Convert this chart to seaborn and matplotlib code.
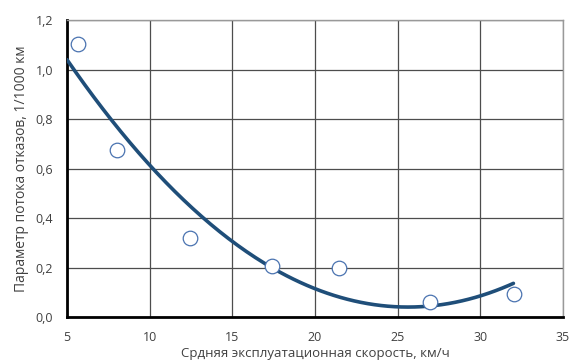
import numpy as np
import pandas as pd
import matplotlib
matplotlib.use("Agg")
import matplotlib.pyplot as plt
import seaborn as sns
from matplotlib.ticker import FuncFormatter

speed = [5.67, 8.02, 12.44, 17.4, 21.45, 26.96, 32.04]
failure_rate = [1.103, 0.675, 0.319, 0.206, 0.198, 0.06, 0.093]
x_ticks = [5, 10, 15, 20, 25, 30, 35]
y_ticks = [0.0, 0.2, 0.4, 0.6, 0.8, 1.0, 1.2]
trend_range = [5, 32]

sns.set_theme(style="white")
plt.rcParams['font.family'] = ['Open Sans', 'DejaVu Sans']

fig = plt.figure(figsize=(5.69, 3.63), dpi=100)
ax = fig.add_axes([0.1178, 0.1267, 0.8717, 0.8182])

coef = np.polyfit(speed, failure_rate, 2)
xt = np.linspace(trend_range[0], trend_range[1], 200)
trend = pd.DataFrame({"x": xt, "y": np.polyval(coef, xt)})
sns.lineplot(data=trend, x="x", y="y", ax=ax, color="#1f4e79", linewidth=2.6, zorder=3)

pts = pd.DataFrame({"x": speed, "y": failure_rate})
sns.scatterplot(data=pts, x="x", y="y", ax=ax, marker="o", s=110,
                facecolor="white", edgecolor="#4a73b0", linewidth=0.9, zorder=4)

ax.set_xlim(5, 35)
ax.set_ylim(0, 1.2)
ax.set_xticks(x_ticks)
ax.set_yticks(y_ticks)
ax.yaxis.set_major_formatter(FuncFormatter(lambda v, p: f"{v:.1f}".replace(".", ",")))
ax.grid(True, color="#4d4d4d", linewidth=0.9)
ax.set_axisbelow(True)
for s in ["top", "right"]:
    ax.spines[s].set_color("#999999")
    ax.spines[s].set_linewidth(1.0)
for s in ["left", "bottom"]:
    ax.spines[s].set_color("black")
    ax.spines[s].set_linewidth(2.0)
ax.tick_params(axis="both", labelsize=9, colors="#404040", length=0)
ax.tick_params(axis="y", pad=10)
ax.tick_params(axis="x", pad=10)
ax.set_xlabel("Срдняя эксплуатационная скорость, км/ч", fontsize=9.5, color="#404040", labelpad=2)
ax.set_ylabel("Параметр потока отказов, 1/1000 км", fontsize=10, color="#404040", labelpad=5)

fig.savefig("out.png", dpi=100)
